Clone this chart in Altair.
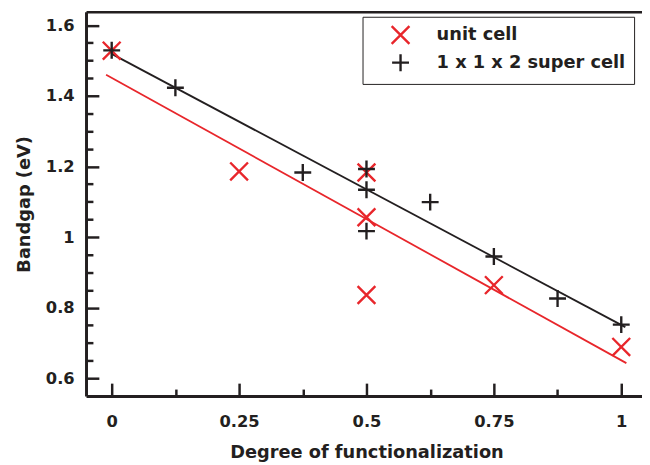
import altair as alt
import pandas as pd

# ---- data ----
series_names = ["unit cell", "\u00a0\u00a01 x 1 x 2 super cell\u00a0"]
fit_names = ["unit cell fit", "super cell fit"]

unit_x = [0, 0.25, 0.5, 0.5, 0.5, 0.75, 1]
unit_y = [1.528, 1.186, 1.183, 1.056, 0.836, 0.864, 0.689]

super_x = [0, 0.125, 0.375, 0.5, 0.5, 0.5, 0.625, 0.75, 0.875, 1]
super_y = [1.529, 1.423, 1.183, 1.193, 1.134, 1.017, 1.099, 0.945, 0.826, 0.752]

red_fit_x = [-0.011, 1.010]
red_fit_y = [1.460, 0.643]
black_fit_x = [0.0, 1.008]
black_fit_y = [1.519, 0.745]

major_x = [0, 0.25, 0.5, 0.75, 1]
minor_x = [0.125, 0.375, 0.625, 0.875]
major_y = [0.6, 0.8, 1.0, 1.2, 1.4, 1.6]
minor_y = [0.65, 0.7, 0.75, 0.85, 0.9, 0.95, 1.05, 1.1, 1.15,
           1.25, 1.3, 1.35, 1.45, 1.5, 1.55]

colors = ["#e8262b", "#231f20"]
shapes = ["M-1,-1L1,1M-1,1L1,-1", "M-0.95,0L0.95,0M0,-0.95L0,0.95"]

points = pd.DataFrame({
    "x": unit_x + super_x,
    "y": unit_y + super_y,
    "series": [series_names[0]] * len(unit_x) + [series_names[1]] * len(super_x),
})
fit = pd.DataFrame({
    "x": red_fit_x + black_fit_x,
    "y": red_fit_y + black_fit_y,
    "fit": [fit_names[0]] * 2 + [fit_names[1]] * 2,
})

X_DOM = [-0.0504, 1.0407]
Y_DOM = [0.55, 1.638]
x_scale = alt.Scale(domain=X_DOM, nice=False, zero=False)
y_scale = alt.Scale(domain=Y_DOM, nice=False, zero=False)

FONT = "DejaVu Sans"
INK = "#231f20"

lines = alt.Chart(fit).mark_line(strokeWidth=1.8, clip=True).encode(
    x=alt.X("x:Q", scale=x_scale,
            axis=alt.Axis(orient="bottom", values=minor_x, tickSize=alt.ExprRef(expr="-7"),
                          labels=False, domain=False, title=None, grid=False)),
    y=alt.Y("y:Q", scale=y_scale,
            axis=alt.Axis(orient="left", values=minor_y, tickSize=alt.ExprRef(expr="-7"),
                          labels=False, domain=False, title=None, grid=False)),
    stroke=alt.Stroke("fit:N", scale=alt.Scale(domain=fit_names, range=colors), legend=None),
)

legend = alt.Legend(
    title=None, orient="none", legendX=280, legendY=5,
    padding=8, symbolOffset=20, labelOffset=26, rowPadding=0,
    strokeColor=INK, fillColor="white", cornerRadius=0,
    symbolSize=324, symbolStrokeWidth=2.4,
    labelFont=FONT, labelFontWeight="bold", labelFontSize=18, labelColor=INK,
    labelLimit=400,
)

pts = alt.Chart(points).mark_point(filled=False, size=324, strokeWidth=2.4, opacity=1).encode(
    x=alt.X("x:Q", scale=x_scale,
            axis=alt.Axis(orient="bottom", values=major_x, format=".2~f",
                          tickSize=alt.ExprRef(expr="-13"), labelPadding=31,
                          title="Degree of functionalization", titlePadding=14,
                          titleX=284, grid=False)),
    y=alt.Y("y:Q", scale=y_scale,
            axis=alt.Axis(orient="left", values=major_y, format=".2~f",
                          tickSize=alt.ExprRef(expr="-13"), labelPadding=25,
                          title="Bandgap (eV)", titlePadding=12, grid=False)),
    color=alt.Color("series:N", scale=alt.Scale(domain=series_names, range=colors), legend=legend),
    shape=alt.Shape("series:N", scale=alt.Scale(domain=series_names, range=shapes), legend=legend),
)

top = alt.Chart(fit).mark_point(opacity=0).encode(
    x=alt.X("x:Q", scale=x_scale,
            axis=alt.Axis(orient="top", ticks=False, labels=False, domain=True,
                          domainWidth=2.5, title=None, grid=False)),
    y=alt.Y("y:Q", scale=y_scale, axis=None),
)

chart = (
    alt.layer(lines, pts, top)
    .resolve_scale(x="independent", y="independent")
    .properties(
        width=563, height=389,
        padding={"left": 79, "top": 1, "right": 0, "bottom": 66},
        autosize=alt.AutoSizeParams(type="none"),
    )
    .configure_view(stroke=None)
    .configure_axis(
        labelFont=FONT, labelFontWeight="bold", labelFontSize=16.5, labelColor=INK,
        titleFont=FONT, titleFontWeight="bold", titleFontSize=18, titleColor=INK,
        domainColor=INK, domainWidth=3, tickColor=INK, tickWidth=2.5, grid=False,
    )
)

chart.save("out.html", embed_options={"renderer": "svg", "actions": False})
